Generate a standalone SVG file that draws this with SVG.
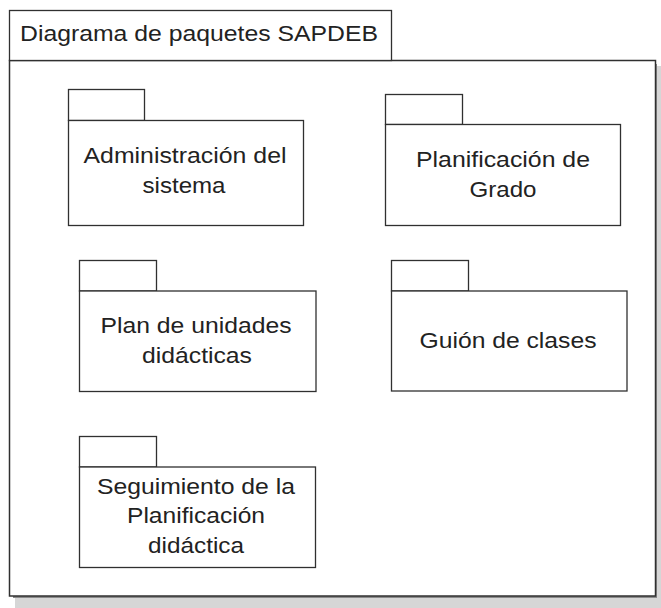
<svg xmlns="http://www.w3.org/2000/svg" width="661" height="608" viewBox="0 0 661 608">
<style>
.ln{fill:#fff;stroke:#303030;stroke-width:1.3}
.sh{fill:#d6d6d6;stroke:none}
.t{font-family:"Liberation Sans",Arial,sans-serif;font-size:22px;fill:#222;text-anchor:middle}
.tl{font-family:"Liberation Sans",Arial,sans-serif;font-size:22px;fill:#222}
</style>
<rect width="661" height="608" fill="#fff"/>
<g id="frame">
<rect class="sh" x="15" y="66" width="646" height="542"/>
<rect x="13" y="64" width="644" height="534" fill="#8a8a8a"/>
<rect class="ln" x="9.5" y="60.5" width="646" height="535.5" style="stroke-width:1.5"/>
<rect class="ln" x="9.5" y="10.5" width="382" height="50"/>
<text class="tl" x="20" y="41" textLength="358" lengthAdjust="spacingAndGlyphs">Diagrama de paquetes SAPDEB</text>
</g>
<g id="pkg-administracion">
<rect class="ln" x="68.5" y="89.5" width="76" height="31"/>
<rect class="ln" x="68.5" y="120.5" width="235" height="105"/>
<text class="t" x="185" y="163" textLength="203" lengthAdjust="spacingAndGlyphs">Administración del</text>
<text class="t" x="184" y="193" textLength="83" lengthAdjust="spacingAndGlyphs">sistema</text>
</g>
<g id="pkg-planificacion-grado">
<rect class="ln" x="385.5" y="94.5" width="77" height="30"/>
<rect class="ln" x="385.5" y="124.5" width="235" height="101"/>
<text class="t" x="503" y="167" textLength="174" lengthAdjust="spacingAndGlyphs">Planificación de</text>
<text class="t" x="503" y="197" textLength="67" lengthAdjust="spacingAndGlyphs">Grado</text>
</g>
<g id="pkg-plan-unidades">
<rect class="ln" x="79.5" y="260.5" width="77" height="30.5"/>
<rect class="ln" x="79.5" y="291" width="236.5" height="100.5"/>
<text class="t" x="196" y="333" textLength="191" lengthAdjust="spacingAndGlyphs">Plan de unidades</text>
<text class="t" x="197" y="363" textLength="110" lengthAdjust="spacingAndGlyphs">didácticas</text>
</g>
<g id="pkg-guion-clases">
<rect class="ln" x="391.5" y="260.5" width="77" height="30.5"/>
<rect class="ln" x="391.5" y="291" width="235.5" height="100"/>
<text class="t" x="508" y="348" textLength="177" lengthAdjust="spacingAndGlyphs">Guión de clases</text>
</g>
<g id="pkg-seguimiento">
<rect class="ln" x="79.5" y="436.5" width="77" height="30.5"/>
<rect class="ln" x="79.5" y="467" width="236" height="100.5"/>
<text class="t" x="196" y="494" textLength="198" lengthAdjust="spacingAndGlyphs">Seguimiento de la</text>
<text class="t" x="196" y="523" textLength="138" lengthAdjust="spacingAndGlyphs">Planificación</text>
<text class="t" x="196" y="553" textLength="96" lengthAdjust="spacingAndGlyphs">didáctica</text>
</g>
<g id="connectors"></g>
</svg>
